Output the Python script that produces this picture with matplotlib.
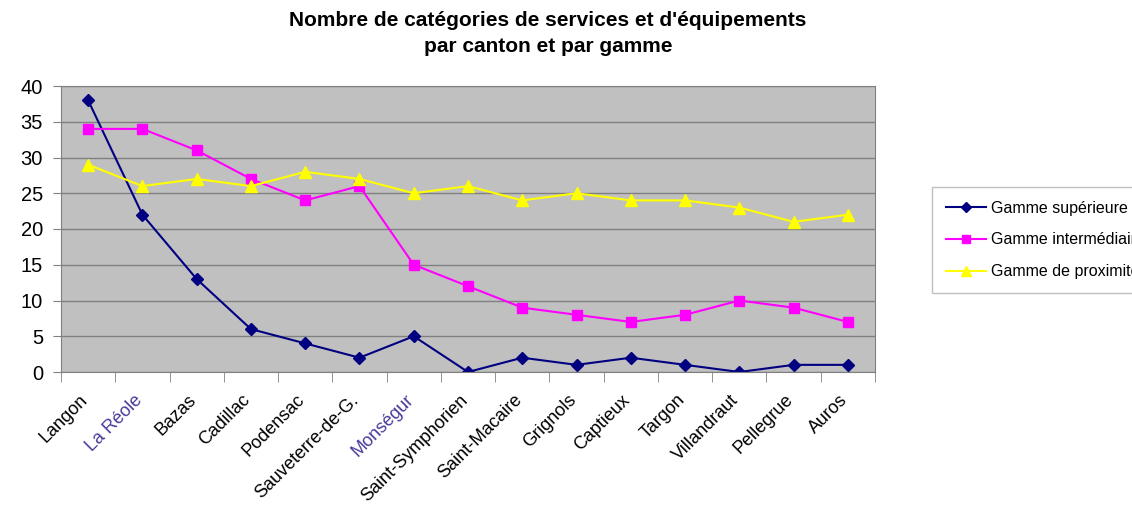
import numpy as np
import matplotlib
matplotlib.use('Agg')
import matplotlib.pyplot as plt
import matplotlib.transforms as mtransforms

plt.rcParams['font.family'] = ['Liberation Sans', 'DejaVu Sans']

cantons = ['Langon', 'La Réole', 'Bazas', 'Cadillac', 'Podensac', 'Sauveterre-de-G.',
           'Monségur', 'Saint-Symphorien', 'Saint-Macaire', 'Grignols', 'Captieux',
           'Targon', 'Villandraut', 'Pellegrue', 'Auros']
superieure = [38, 22, 13, 6, 4, 2, 5, 0, 2, 1, 2, 1, 0, 1, 1]
intermediaire = [34, 34, 31, 27, 24, 26, 15, 12, 9, 8, 7, 8, 10, 9, 7]
proximite = [29, 26, 27, 26, 28, 27, 25, 26, 24, 25, 24, 24, 23, 21, 22]

fig = plt.figure(figsize=(11.32, 5.08), dpi=100)
ax = fig.add_axes([61/1132, 1-372/508, (875-61)/1132, (372-86)/508])
ax.set_facecolor('#C0C0C0')

x = np.arange(len(cantons))
ax.plot(x, superieure, color='#000080', marker='D', markersize=6, lw=1.5,
        label='Gamme supérieure')
ax.plot(x, intermediaire, color='#FF00FF', marker='s', markersize=7, lw=1.5,
        label='Gamme intermédiaire')
ax.plot(x, proximite, color='#FFFF00', marker='^', markersize=8, lw=1.5,
        label='Gamme de proximité')

ax.set_xlim(-0.5, len(cantons)-0.5)
ax.set_ylim(0, 40)
ax.set_yticks(np.arange(0, 41, 5))
ax.yaxis.grid(True, color='#808080', lw=1)
ax.set_axisbelow(True)
ax.tick_params(axis='y', labelsize=14.5, length=6, color='#808080', pad=7)

ax.set_xticks(x)
ax.set_xticklabels(cantons, rotation=45, ha='right', rotation_mode='anchor', fontsize=13)
ax.tick_params(axis='x', which='major', length=0, pad=14)
ax.set_xticks(np.arange(-0.5, len(cantons), 1), minor=True)
ax.tick_params(axis='x', which='minor', length=7, color='#808080', direction='out')
shift = mtransforms.ScaledTranslation(-9/100, 0, fig.dpi_scale_trans)
for lbl in ax.get_xticklabels():
    lbl.set_transform(lbl.get_transform() + shift)
    if lbl.get_text() in ('La Réole', 'Monségur'):
        lbl.set_color('#4a3a9a')

for s in ax.spines.values():
    s.set_color('#808080')

fig.suptitle("Nombre de catégories de services et d'équipements\npar canton et par gamme",
             x=548/1132, y=0.978, fontsize=15, fontweight='bold', linespacing=1.45)

leg = ax.legend(loc='upper left', bbox_to_anchor=(932/1132, 1-187/508),
                bbox_transform=fig.transFigure, borderaxespad=0, fontsize=11.5,
                frameon=True, fancybox=False, edgecolor='#B0B0B0', handlelength=2.5,
                handletextpad=0.35, labelspacing=1.05, borderpad=0.85, markerscale=0.9)
leg.get_frame().set_linewidth(1.0)

fig.savefig('out.png', dpi=100)
